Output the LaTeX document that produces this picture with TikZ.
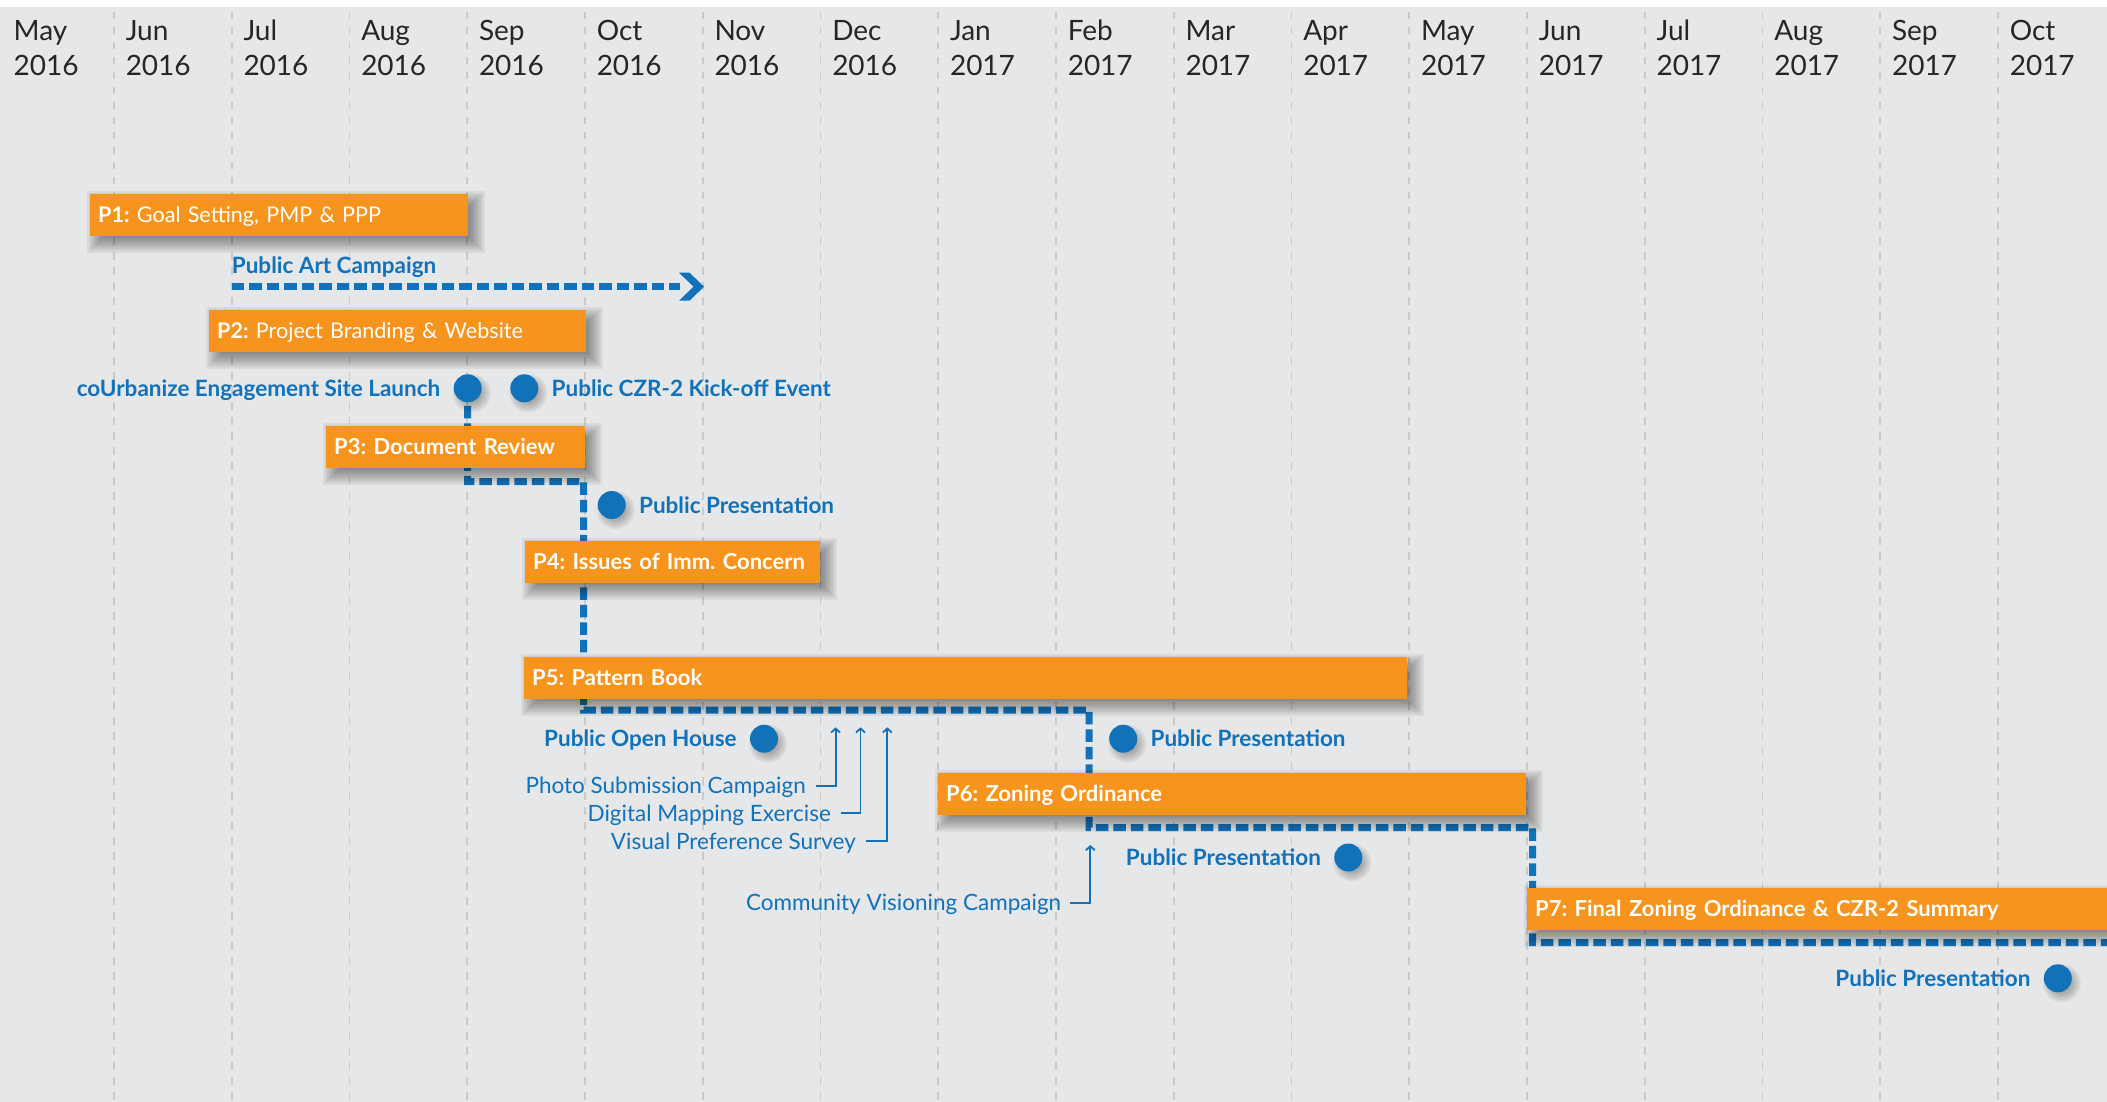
\documentclass[tikz,border=0pt]{standalone}
\usepackage{fontspec}
\setmainfont{Lato}
\usetikzlibrary{calc,positioning,arrows.meta}
\definecolor{bggray}{HTML}{E6E7E8}
\definecolor{gridgray}{HTML}{C9CACC}
\definecolor{porange}{HTML}{F7941D}
\definecolor{pblue}{HTML}{1172BA}
\definecolor{monthtext}{HTML}{262626}
\pgfdeclarelayer{gridlayer}
\pgfdeclarelayer{linklayer}
\pgfdeclarelayer{shadowlayer}
\pgfsetlayers{gridlayer,linklayer,shadowlayer,main}
\frenchspacing
\tikzset{
  softshade/.style={fill=black, opacity=0.055},
  gridline/.style={draw=gridgray, line width=1.8pt, dash pattern=on 7.5pt off 7.5pt},
  monthlbl/.style={anchor=base west, inner sep=0pt, font=\fontsize{28}{33}\selectfont, text=monthtext},
  phasebar/.style={fill=porange, anchor=north west, minimum height=42pt, inner xsep=8pt, inner ysep=0pt,
    text height=15.5pt, text depth=0pt, text=white, font=\fontsize{21.6}{26}\selectfont, align=left},
  phasebarb/.style={phasebar, font=\fontsize{22}{26}\selectfont\bfseries},
  marker/.style={circle, fill=pblue, minimum size=28pt, inner sep=0pt},
  evlbl/.style={text=pblue, font=\fontsize{22.5}{27}\selectfont\bfseries, inner sep=0pt, text height=16pt, text depth=0pt},
  notetext/.style={text=pblue, font=\fontsize{22.5}{27}\selectfont, inner sep=0pt, text height=16pt, text depth=0pt, anchor=east},
  linkline/.style={draw=pblue, line width=7pt, dash pattern=on 12.5pt off 5pt, line join=miter},
  noteline/.style={draw=pblue, line width=1.8pt, -{Straight Barb[length=4pt,width=9pt]}}
}
\newcommand\barshadow[1]{%
  \foreach \e in {10,8,...,-10}{%
    \pgfmathsetmacro\sa{7-\e}%
    \pgfmathsetmacro\sb{7+\e}%
    \fill[softshade] ($(#1.south west)+(\sa,\sb)$) rectangle ($(#1.north east)+(\sb,\sa)$);
  }}
\newcommand\markershadow[1]{%
  \foreach \e in {5,3,...,-5}{%
    \pgfmathsetmacro\rr{14+\e}%
    \fill[softshade] ($(#1.center)+(4,5)$) circle[radius=\rr pt];
  }}
\begin{document}
\begin{tikzpicture}[x=1pt,y=-1pt]
\useasboundingbox (0,0) rectangle (2107,1102);
\begin{pgfonlayer}{gridlayer}
  \fill[white] (0,0) rectangle (2107,1102);
  \fill[bggray] (0,7) rectangle (2107,1102);
  \foreach \i in {1,...,17}{
    \draw[gridline] ({-3.7+117.75*\i},12) -- ({-3.7+117.75*\i},1102);
  }
\end{pgfonlayer}

% month labels
\foreach \m [count=\i from 0] in {May,Jun,Jul,Aug,Sep,Oct,Nov,Dec,Jan,Feb,Mar,Apr,May,Jun,Jul,Aug,Sep,Oct}{
  \pgfmathsetmacro\xx{\i==0 ? 13.5 : -3.7+117.75*\i+11.5}
  \pgfmathtruncatemacro\yr{\i<8 ? 2016 : 2017}
  \node[monthlbl] (mon\i) at (\xx,40.5) {\m};
  \node[monthlbl] (yr\i) at (\xx,76) {\yr};
}

% phase bars
\node[phasebar,  text width=362pt] (p1) at (90,194)   {\mbox{\textbf{P1:} Goal Setting, PMP \& PPP}};
\node[phasebar,  text width=361pt] (p2) at (209,310)  {\mbox{\textbf{P2:} Project Branding \& Website}};
\node[phasebarb, text width=243pt] (p3) at (326,426)  {\mbox{P3: Document Review}};
\node[phasebarb, text width=279pt] (p4) at (525,541)  {\mbox{P4: Issues of Imm. Concern}};
\node[phasebarb, text width=867pt] (p5) at (524,657)  {\mbox{P5: Pattern Book}};
\node[phasebarb, text width=572pt] (p6) at (938,773)  {\mbox{P6: Zoning Ordinance}};
\node[phasebarb, text width=577pt] (p7) at (1527,888) {\mbox{P7: Final Zoning Ordinance \& CZR-2 Summary}};

% event markers
\node[marker] (dcu)  at (467.7,388.3) {};
\node[marker] (dko)  at (524.3,388.3) {};
\node[marker] (dpp1) at (611.7,505)   {};
\node[marker] (doh)  at (764,738.7)   {};
\node[marker] (dpp2) at (1123.2,738.7) {};
\node[marker] (dpp3) at (1348.3,857.5) {};
\node[marker] (dpp4) at (2057.8,978.3) {};

\node[evlbl, left=13pt of dcu]   (tcu)  {coUrbanize Engagement Site Launch};
\node[evlbl, right=13pt of dko]  (tko)  {Public CZR-2 Kick-off Event};
\node[evlbl, right=13pt of dpp1] (tpp1) {Public Presentation};
\node[evlbl, left=13pt of doh]   (toh)  {Public Open House};
\node[evlbl, right=13pt of dpp2] (tpp2) {Public Presentation};
\node[evlbl, left=13pt of dpp3]  (tpp3) {Public Presentation};
\node[evlbl, left=13pt of dpp4]  (tpp4) {Public Presentation};
\node[evlbl, anchor=base west] (tart) at (231.7,273.3) {Public Art Campaign};

% notes
\node[notetext] (tphoto) at (806,785.7)  {Photo Submission Campaign};
\node[notetext] (tdig)   at (831,813.3)  {Digital Mapping Exercise};
\node[notetext] (tvis)   at (856,841)    {Visual Preference Survey};
\node[notetext] (tcom)   at (1061.4,902.7) {Community Visioning Campaign};

% coordinates of the connector corners
\coordinate (k1) at (467.5,481.5);
\coordinate (k2) at (583.5,481.5);
\coordinate (k3) at (583.5,710);
\coordinate (k4) at (1089,710);
\coordinate (k5) at (1089,827.5);
\coordinate (k6) at (1532.5,827.5);
\coordinate (k7) at (1532.5,942.5);
\coordinate (k8) at (2115,942.5);
\coordinate (artstart) at (231.7,286.7);
\coordinate (artend) at (680,286.7);
\coordinate (artip) at (704,286.7);
\coordinate (aphoto) at (835.6,727.3);
\coordinate (adig) at (860.5,727.3);
\coordinate (avis) at (887.3,727.3);
\coordinate (acom) at (1090.3,845);

\begin{pgfonlayer}{linklayer}
  \draw[linkline] (dcu.center) -- (k1) -- (k2) -- (k3) -- (k4) -- (k5) -- (k6) -- (k7) -- (k8);
  \draw[linkline] (artstart) -- (artend);
  \fill[pblue] ($(artip)+(-25,-14)$) -- ($(artip)+(-14.5,-14)$) -- (artip) -- ($(artip)+(-14.5,14)$)
     -- ($(artip)+(-25,14)$) -- ($(artip)+(-10.5,0)$) -- cycle;
  \draw[noteline] ([xshift=9.5pt]tphoto.east) -| (aphoto);
  \draw[noteline] ([xshift=9.5pt]tdig.east) -| (adig);
  \draw[noteline] ([xshift=9.5pt]tvis.east) -| (avis);
  \draw[noteline] ([xshift=9pt]tcom.east) -| (acom);
\end{pgfonlayer}

\begin{pgfonlayer}{shadowlayer}
  \barshadow{p1}\barshadow{p2}\barshadow{p3}\barshadow{p4}
  \barshadow{p5}\barshadow{p6}\barshadow{p7}
  \markershadow{dcu}\markershadow{dko}\markershadow{dpp1}\markershadow{doh}
  \markershadow{dpp2}\markershadow{dpp3}\markershadow{dpp4}
\end{pgfonlayer}
\end{tikzpicture}
\end{document}
